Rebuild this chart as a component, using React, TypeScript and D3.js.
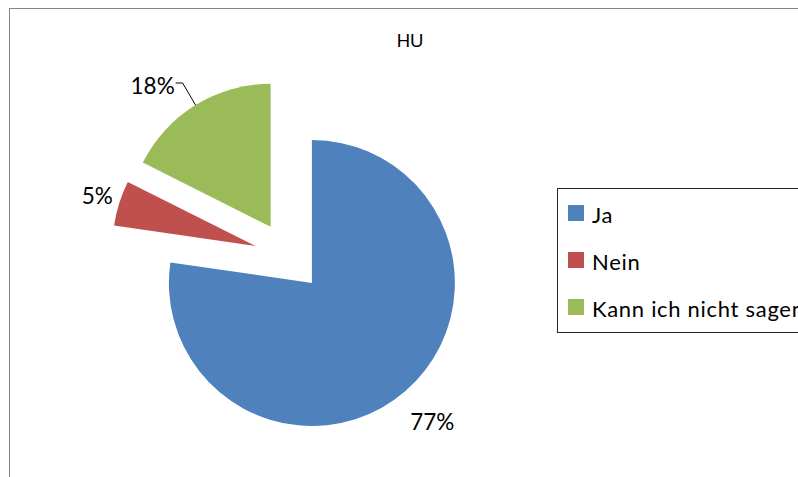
import React from "react";
import * as d3 from "d3";

const categories = ["Ja", "Nein", "Kann ich nicht sagen"];
const values = [77.3, 5.1, 17.6];
const colors = ["#4F81BD", "#C0504D", "#9BBB59"];
const title = "HU";

const W = 798;
const H = 477;
const cx = 289;
const cy = 256.5;
const R = 143;
const explode = 35;
// label placement (polar, relative to exploded slice vertex)
const labelDist = [184, 166, 184];
const labelAngleShift = [0, 0, -8.2];

export default function App() {
  const total = d3.sum(values);
  const pie = d3.pie<number>().sort(null).value((d) => d).startAngle(0).endAngle(2 * Math.PI);
  const arcs = pie(values);
  const arc = d3.arc<d3.PieArcDatum<number>>().innerRadius(0).outerRadius(R);

  const font = "Lato, 'Open Sans', sans-serif";

  return (
    <svg width={W} height={H} style={{ position: "absolute", left: 0, top: 0, background: "#fff" }}>
      <rect x={9.5} y={8.5} width={1000} height={1000} fill="#fff" stroke="#868686" strokeWidth={1} />
      <text x={410} y={47} textAnchor="middle" fontFamily="'Liberation Sans', Arial, sans-serif" fontSize={18.5} fill="#000">
        {title}
      </text>
      {arcs.map((a, i) => {
        const mid = (a.startAngle + a.endAngle) / 2;
        const vx = cx + explode * Math.sin(mid);
        const vy = cy - explode * Math.cos(mid);
        const la = mid + (labelAngleShift[i] * Math.PI) / 180;
        const lx = vx + labelDist[i] * Math.sin(la);
        const ly = vy - labelDist[i] * Math.cos(la);
        const pct = Math.round((values[i] / total) * 100) + "%";
        const ex = vx + R * Math.sin(mid);
        const ey = vy - R * Math.cos(mid);
        return (
          <g key={i}>
            <path d={arc(a) || ""} transform={`translate(${vx},${vy})`} fill={colors[i]} />
            {labelAngleShift[i] !== 0 && (
              <polyline
                points={`${lx + 23},${ly - 2.5} ${lx + 30},${ly - 2.5} ${ex},${ey}`}
                fill="none"
                stroke="#000"
                strokeWidth={1}
              />
            )}
            <text x={lx} y={ly + 8} textAnchor="middle" fontFamily={font} fontSize={22.5} fill="#000">
              {pct}
            </text>
          </g>
        );
      })}
      <rect x={557.5} y={188.5} width={300} height={144} fill="#fff" stroke="#262626" strokeWidth={1} />
      {categories.map((c, i) => (
        <g key={c}>
          <rect x={568} y={205 + i * 47} width={16} height={16} fill={colors[i]} />
          <text x={592} y={223 + i * 47} fontFamily={font} fontSize={22} letterSpacing={0.7} fill="#000">
            {c}
          </text>
        </g>
      ))}
    </svg>
  );
}
